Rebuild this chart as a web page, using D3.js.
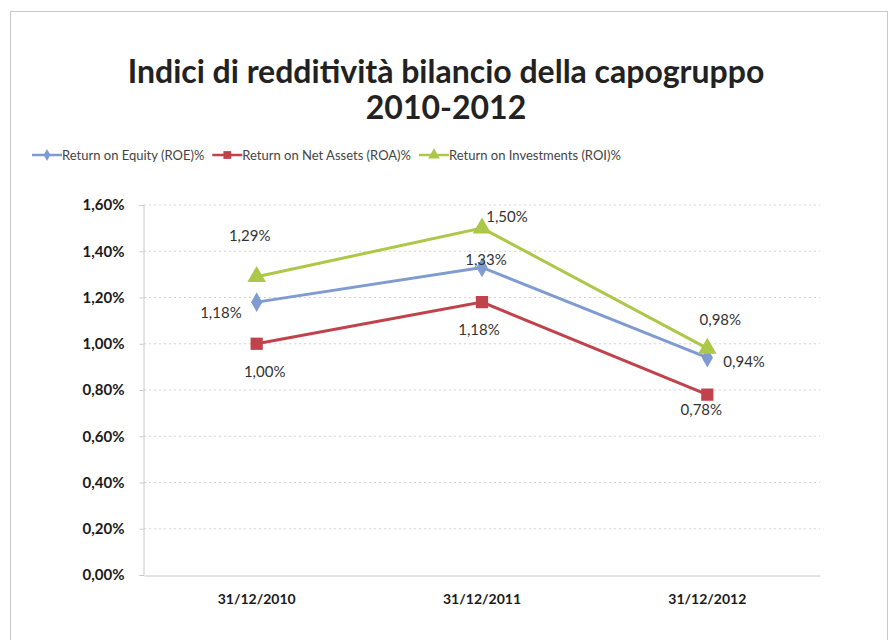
<!DOCTYPE html>
<html>
<head>
<meta charset="utf-8">
<script src="https://cdn.jsdelivr.net/npm/d3@7"></script>
<style>
  body { margin: 0; background: #fff; }
  text { font-family: Lato, "Open Sans", sans-serif; }
</style>
</head>
<body>
<script>
// Size
var w = 892;
var h = 640;

// Data
var categories = ["31/12/2010", "31/12/2011", "31/12/2012"];
var seriesNames = ["Return on Equity (ROE)%", "Return on Net Assets (ROA)%", "Return on Investments (ROI)%"];
var roe = [1.18, 1.33, 0.94];
var roa = [1.00, 1.18, 0.78];
var roi = [1.29, 1.50, 0.98];
var yTicks = [0, 0.2, 0.4, 0.6, 0.8, 1.0, 1.2, 1.4, 1.6];

var colors = ["#7f9bd0", "#c0424a", "#adc748"];
var shapes = [d3.symbolDiamond, d3.symbolSquare, d3.symbolTriangle];

// label offsets from each point: [dx, dy, anchor]
var labelOffsets = [
  [[-15, 16, "end"], [4, -2, "middle"], [16, 9, "start"]],
  [[8, 33, "middle"], [-3, 33, "middle"], [-6, 20, "middle"]],
  [[-7, -36, "middle"], [25, -6, "middle"], [13, -23, "middle"]]
];

var fmt = function(v) { return v.toFixed(2).replace(".", ",") + "%"; };

var svg = d3.select("body")
            .append("svg")
            .attr("width", w)
            .attr("height", h);

// outer frame
svg.append("rect")
   .attr("x", 10.5).attr("y", 11.5)
   .attr("width", 877).attr("height", 640)
   .attr("fill", "none")
   .attr("stroke", "#c8c8c8");

// Title
svg.append("text")
   .attr("x", 446).attr("y", 83)
   .attr("text-anchor", "middle")
   .attr("font-size", "32px").attr("font-weight", "bold")
   .attr("fill", "#222")
   .text("Indici di redditività bilancio della capogruppo");
svg.append("text")
   .attr("x", 446).attr("y", 119)
   .attr("text-anchor", "middle")
   .attr("font-size", "32px").attr("font-weight", "bold")
   .attr("fill", "#222")
   .text("2010-2012");

// Scales
var x = d3.scaleBand().domain(categories).range([144, 820]);
var y = d3.scaleLinear().domain([0, 1.6]).range([575, 205]);

// Gridlines
svg.append("g")
   .selectAll("line")
   .data(yTicks.filter(function(d) { return d > 0; }))
   .enter()
   .append("line")
   .attr("x1", 144).attr("x2", 820)
   .attr("y1", function(d) { return y(d); })
   .attr("y2", function(d) { return y(d); })
   .attr("stroke", "#d4d4d4")
   .attr("stroke-dasharray", "2,3");

// Y axis
var yAxis = svg.append("g")
   .attr("transform", "translate(143.5,0)")
   .call(d3.axisLeft(y).tickValues(yTicks).tickSize(4).tickFormat(fmt));
yAxis.select(".domain").attr("stroke", "#c8c8c8");
yAxis.selectAll(".tick line").attr("stroke", "#c8c8c8");
yAxis.selectAll("text")
   .attr("font-size", "15px").attr("font-weight", "bold")
   .attr("fill", "#1a1a1a").attr("x", -19)
   .style("font-family", "Lato, sans-serif");

// X axis
var xAxis = svg.append("g")
   .attr("transform", "translate(0,575.5)")
   .call(d3.axisBottom(x).tickSize(0).tickPadding(19));
xAxis.select(".domain").attr("stroke", "#c8c8c8");
xAxis.selectAll("text")
   .attr("font-size", "14px").attr("font-weight", "bold")
   .attr("fill", "#1a1a1a")
   .style("font-family", "Lato, sans-serif");

// Lines
var allSeries = [roe, roa, roi];
var cx = function(i) { return x(categories[i]) + x.bandwidth() / 2; };
var line = d3.line()
   .x(function(d, i) { return cx(i); })
   .y(function(d) { return y(d); });

allSeries.forEach(function(vals, s) {
  svg.append("path")
     .datum(vals)
     .attr("d", line)
     .attr("fill", "none")
     .attr("stroke", colors[s])
     .attr("stroke-width", 3);

  svg.selectAll(".pt" + s)
     .data(vals)
     .enter()
     .append("path")
     .attr("class", "pt" + s)
     .attr("d", d3.symbol().type(shapes[s]).size(s === 0 ? 110 : 150))
     .attr("transform", function(d, i) { return "translate(" + cx(i) + "," + y(d) + ")"; })
     .attr("fill", colors[s]);

  svg.selectAll(".lb" + s)
     .data(vals)
     .enter()
     .append("text")
     .attr("class", "lb" + s)
     .attr("font-size", "15px")
     .attr("fill", "#333")
     .attr("text-anchor", function(d, i) { return labelOffsets[s][i][2]; })
     .attr("x", function(d, i) { return cx(i) + labelOffsets[s][i][0]; })
     .attr("y", function(d, i) { return y(d) + labelOffsets[s][i][1]; })
     .text(fmt);
});

// Legend
var legend = svg.append("g").attr("transform", "translate(32,155)");
var lx = 0;
seriesNames.forEach(function(name, s) {
  var g = legend.append("g").attr("transform", "translate(" + lx + ",0)");
  g.append("line")
   .attr("x1", 0).attr("x2", 30)
   .attr("stroke", colors[s]).attr("stroke-width", 2.5);
  g.append("path")
   .attr("d", d3.symbol().type(shapes[s]).size(s === 0 ? 40 : 60))
   .attr("transform", "translate(15,0)")
   .attr("fill", colors[s]);
  var t = g.append("text")
   .attr("x", 30).attr("y", 4.5)
   .attr("font-size", "13px")
   .attr("fill", "#444")
   .text(name);
  lx += 30 + t.node().getComputedTextLength() + 8;
});
</script>
</body>
</html>
